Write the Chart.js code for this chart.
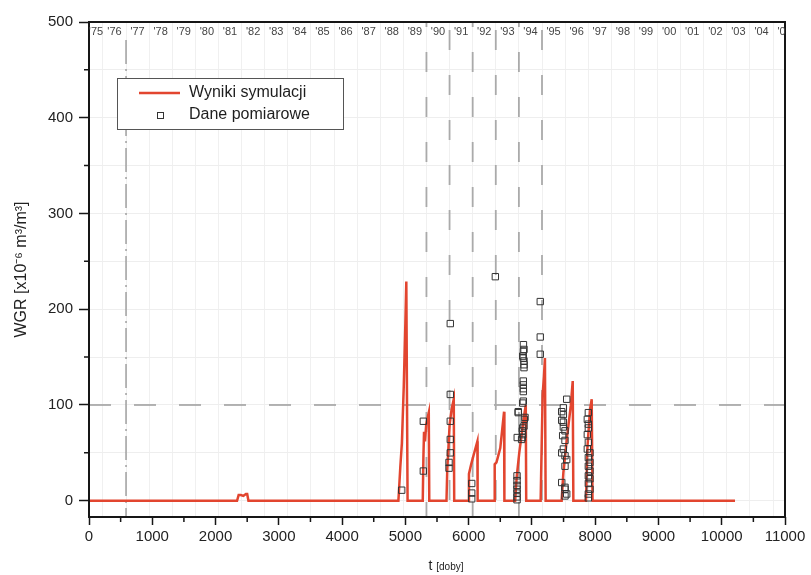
<!DOCTYPE html>
<html>
<head>
<meta charset="utf-8">
<script src="https://cdn.jsdelivr.net/npm/chart.js@4.4.1/dist/chart.umd.min.js"></script>
<style>
  html, body { margin: 0; padding: 0; background: #fff; }
  canvas { display: block; }
</style>
</head>
<body>
<canvas id="wgr_chart" width="811" height="575"></canvas>
<script>
// Simulated WGR (red line), days since start of record
var simDays   = [0, 2340, 2365, 2400, 2440, 2480, 2500, 2520,
                 4890, 4920, 4945, 4975, 5000, 5015, 5035,
                 5275, 5285, 5295, 5310, 5330, 5350, 5370, 5378,
                 5650, 5662, 5700, 5730, 5765, 5772,
                 5995, 6005, 6040, 6080, 6138, 6142,
                 6405, 6412, 6440, 6460, 6500, 6560, 6565,
                 6735, 6760, 6800, 6840, 6875, 6903, 6910,
                 7138, 7154, 7170, 7190, 7206, 7217,
                 7470, 7497, 7551, 7614, 7645, 7655,
                 7855, 7876, 7918, 7945, 7958,
                 10210];
var simValues = [0, 0, 6, 6, 5, 7, 7, 0,
                 0, 35, 60, 120, 185, 229, 0,
                 0, 45, 72, 62, 80, 86, 92, 0,
                 0, 32, 80, 95, 106, 0,
                 0, 28, 38, 48, 62, 0,
                 0, 38, 40, 45, 55, 93, 0,
                 0, 25, 50, 70, 88, 100, 0,
                 0, 57, 111, 130, 149, 0,
                 0, 29, 64, 99, 125, 0,
                 0, 54, 95, 106, 0,
                 0];

// Measured WGR (squares)
var measDays   = [4942,
                  5284, 5284,
                  5710, 5710, 5710, 5710, 5710, 5690, 5690,
                  6049, 6049, 6049,
                  6422,
                  6866, 6875, 6864, 6855, 6864, 6875, 6875, 6875, 6864, 6864, 6864, 6864, 6864, 6855,
                  6784, 6784, 6891, 6880, 6875, 6855, 6848, 6855, 6768, 6848, 6837,
                  6765, 6765, 6765, 6765, 6765, 6765, 6765,
                  7132, 7132, 7132,
                  7550, 7497, 7471, 7497, 7471, 7497, 7497, 7523, 7486, 7523,
                  7497, 7471, 7523, 7550, 7523, 7471, 7523, 7523, 7550, 7523,
                  7892, 7876, 7892, 7892, 7876, 7892, 7876, 7918, 7892,
                  7918, 7892, 7918, 7892, 7918, 7892, 7918, 7892, 7892];
var measValues = [11,
                  83, 31,
                  185, 111, 83, 64, 50, 40, 34,
                  18, 8, 2,
                  234,
                  163, 158, 156, 151, 149, 146, 142, 139, 125, 121, 117, 114, 104, 102,
                  93, 92, 87, 85, 78, 76, 73, 69, 66, 66, 64,
                  26, 21, 16, 12, 8, 4, 1,
                  208, 171, 153,
                  106, 97, 93, 90, 84, 82, 77, 73, 68, 63,
                  54, 50, 47, 43, 36, 19, 14, 12, 7, 5,
                  92, 85, 80, 76, 69, 61, 54, 50, 45,
                  40, 36, 31, 26, 23, 18, 12, 7, 3];

// Top axis: calendar years
var yearLabels = ["'75", "'76", "'77", "'78", "'79", "'80", "'81", "'82", "'83", "'84",
                  "'85", "'86", "'87", "'88", "'89", "'90", "'91", "'92", "'93", "'94",
                  "'95", "'96", "'97", "'98", "'99", "'00", "'01", "'02", "'03", "'04", "'05"];
var firstYear = 1975;
var day1977 = 585;          // 1 Jan 1977 on the day axis
var yearLen = 365.25;
var markedYears = [1990, 1991, 1992, 1993, 1994, 1995];

var seriesLabels = ['Wyniki symulacji', 'Dane pomiarowe'];

var FONT = "'Liberation Sans', Arial, sans-serif";
var RED = '#e2452f';

function yearStart(y) {
    return day1977 + (y - 1977) * yearLen;
}

var simData = simDays.map(function (d, i) { return { x: d, y: simValues[i] }; });
var measData = measDays.map(function (d, i) { return { x: d, y: measValues[i] }; });

// Dashed reference lines, frame, minor ticks, year labels, legend, x title
var decor = {
    id: 'decor',
    beforeDatasetsDraw: function (chart) {
        var ctx = chart.ctx, a = chart.chartArea;
        var x = chart.scales.x, y = chart.scales.y;
        ctx.save();
        ctx.beginPath();
        ctx.rect(a.left, a.top, a.right - a.left, a.bottom - a.top);
        ctx.clip();

        // horizontal dashed line at 100
        var py = y.getPixelForValue(100);
        ctx.strokeStyle = '#9c9c9c';
        ctx.lineWidth = 1.5;
        ctx.setLineDash([22, 23]);
        ctx.beginPath();
        ctx.moveTo(a.left, py);
        ctx.lineTo(a.right, py);
        ctx.stroke();

        // 1977 dash-dot line
        var px = x.getPixelForValue(yearStart(1977));
        ctx.strokeStyle = '#8a8a8a';
        ctx.lineWidth = 1.2;
        ctx.setLineDash([24, 5, 2, 5]);
        ctx.beginPath();
        ctx.moveTo(px, a.top + 18);
        ctx.lineTo(px, a.bottom);
        ctx.stroke();

        // 1990-1995 dashed lines
        ctx.strokeStyle = '#aaaaaa';
        ctx.lineWidth = 1.8;
        ctx.setLineDash([20, 25]);
        markedYears.forEach(function (yr, i) {
            var p = x.getPixelForValue(yearStart(yr));
            ctx.lineDashOffset = (i % 2 === 0) ? -30 : -8;
            ctx.beginPath();
            ctx.moveTo(p, a.top);
            ctx.lineTo(p, a.bottom);
            ctx.stroke();
        });
        ctx.restore();
    },
    afterDraw: function (chart) {
        var ctx = chart.ctx, a = chart.chartArea;
        var x = chart.scales.x, y = chart.scales.y;
        ctx.save();

        // frame
        ctx.strokeStyle = '#161616';
        ctx.lineWidth = 2;
        ctx.strokeRect(a.left, a.top, a.right - a.left, a.bottom - a.top);

        // minor ticks
        ctx.lineWidth = 1.5;
        ctx.beginPath();
        for (var v = 50; v < 500; v += 100) {
            var py = y.getPixelForValue(v);
            ctx.moveTo(a.left - 5, py);
            ctx.lineTo(a.left, py);
        }
        for (var d = 500; d < 11000; d += 1000) {
            var px = x.getPixelForValue(d);
            ctx.moveTo(px, a.bottom);
            ctx.lineTo(px, a.bottom + 5);
        }
        ctx.stroke();

        // year labels inside the top edge
        ctx.save();
        ctx.beginPath();
        ctx.rect(a.left, a.top, a.right - a.left, 30);
        ctx.clip();
        ctx.font = '11px ' + FONT;
        ctx.fillStyle = '#444';
        ctx.textAlign = 'center';
        ctx.textBaseline = 'middle';
        yearLabels.forEach(function (lab, i) {
            var s = yearStart(firstYear + i);
            var c = (Math.max(0, s) + s + yearLen) / 2;
            ctx.fillText(lab, x.getPixelForValue(c), a.top + 10);
        });
        ctx.restore();

        // legend box
        var lx = a.left + 28, ly = a.top + 56, lw = 226, lh = 51;
        ctx.fillStyle = '#fff';
        ctx.fillRect(lx, ly, lw, lh);
        ctx.strokeStyle = '#555';
        ctx.lineWidth = 1;
        ctx.strokeRect(lx + 0.5, ly + 0.5, lw, lh);

        var ds = chart.data.datasets;
        ctx.strokeStyle = ds[0].borderColor;
        ctx.lineWidth = 2.5;
        ctx.beginPath();
        ctx.moveTo(lx + 22, ly + 15);
        ctx.lineTo(lx + 63, ly + 15);
        ctx.stroke();

        ctx.strokeStyle = ds[1].pointBorderColor;
        ctx.lineWidth = 1;
        ctx.strokeRect(lx + 40.5, ly + 34.5, 6, 6);

        ctx.fillStyle = '#1e1e1e';
        ctx.font = '16px ' + FONT;
        ctx.textAlign = 'left';
        ctx.textBaseline = 'middle';
        ctx.fillText(ds[0].label, lx + 72, ly + 15);
        ctx.fillText(ds[1].label, lx + 72, ly + 37);

        // x axis title "t [doby]"
        var cx = (a.left + a.right) / 2 + 9;
        ctx.font = '14px ' + FONT;
        var w1 = ctx.measureText('t ').width;
        ctx.font = '10px ' + FONT;
        var w2 = ctx.measureText('[doby]').width;
        var sx = cx - (w1 + w2) / 2;
        ctx.fillStyle = '#222';
        ctx.font = '14px ' + FONT;
        ctx.fillText('t', sx, 566);
        ctx.font = '10px ' + FONT;
        ctx.fillText('[doby]', sx + w1, 567);

        ctx.restore();
    }
};

var ctx = document.getElementById('wgr_chart');

var data = {
    datasets: [
        {
            label: seriesLabels[0],
            data: simData,
            showLine: true,
            borderColor: RED,
            borderWidth: 2.5,
            pointRadius: 0,
            tension: 0,
            fill: false,
            order: 1
        },
        {
            label: seriesLabels[1],
            data: measData,
            showLine: false,
            pointStyle: 'rect',
            pointRadius: 4.5,
            pointBorderWidth: 1,
            pointBorderColor: '#333',
            pointBackgroundColor: 'rgba(255,255,255,0)',
            order: 0
        }
    ]
};

var options = {
    responsive: false,
    animation: false,
    layout: { padding: { left: 0, right: 26, top: 0, bottom: 0 } },
    plugins: {
        legend: { display: false },
        tooltip: { enabled: false }
    },
    scales: {
        x: {
            type: 'linear',
            position: 'bottom',
            min: 0,
            max: 11000,
            ticks: {
                stepSize: 1000,
                autoSkip: false,
                maxRotation: 0,
                padding: 3,
                color: '#222',
                font: { family: FONT, size: 15 },
                callback: function (v) { return String(v); }
            },
            grid: { drawOnChartArea: false, tickLength: 8, tickColor: '#161616', tickWidth: 1.5 },
            border: { display: false },
            afterFit: function (s) { s.height = 58; }
        },
        xTop: {
            type: 'linear',
            position: 'top',
            min: 0,
            max: 11000,
            afterBuildTicks: function (s) {
                var t = [];
                for (var yr = firstYear + 1; yr < firstYear + yearLabels.length; yr++) {
                    var d = yearStart(yr);
                    if (d > 0 && d < 11000) t.push({ value: d });
                }
                s.ticks = t;
            },
            ticks: { display: false },
            grid: { color: '#f0f0f0', lineWidth: 1, drawTicks: false },
            border: { display: false },
            afterFit: function (s) { s.height = 22; }
        },
        y: {
            type: 'linear',
            min: -17,
            max: 500,
            afterBuildTicks: function (s) {
                var t = [];
                for (var v = 0; v <= 500; v += 50) t.push({ value: v });
                s.ticks = t;
            },
            ticks: {
                padding: 6,
                color: '#222',
                font: { family: FONT, size: 15 },
                callback: function (v) { return v % 100 === 0 ? v : ''; }
            },
            grid: {
                color: '#eeeeee',
                tickLength: 10,
                tickWidth: 1.5,
                tickColor: function (c) { return c.tick && c.tick.value % 100 === 0 ? '#161616' : 'rgba(0,0,0,0)'; }
            },
            border: { display: false },
            title: {
                display: true,
                text: 'WGR [x10\u207B\u2076 m\u00B3/m\u00B3]',
                color: '#222',
                font: { family: FONT, size: 16 },
                padding: { top: 12, bottom: 0 }
            },
            afterFit: function (s) { s.width = 89; }
        }
    }
};

var chart = new Chart(ctx, { type: 'scatter', data: data, options: options, plugins: [decor] });
</script>
</body>
</html>
